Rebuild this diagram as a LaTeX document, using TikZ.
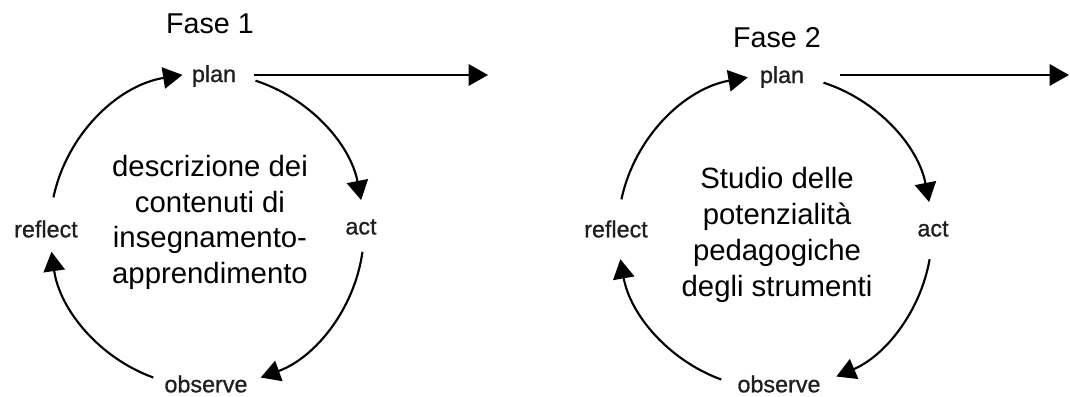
\documentclass[tikz,border=0pt]{standalone}
\usepackage{fontspec}
\setmainfont{Liberation Sans}
\newfontfamily\lblfont{Liberation Sans}[UprightFeatures={FakeBold=0.9}]
\usetikzlibrary{arrows.meta}
\begin{document}
\begin{tikzpicture}[x=0.75pt,y=0.75pt,
  cyc/.style={line width=1.6pt,-{Triangle[length=14.5pt,width=16pt]}},
  lbl/.style={font=\lblfont\fontsize{17.5}{20}\selectfont, text=black!88, inner sep=0pt},
  ttl/.style={font=\fontsize{21.5}{26}\selectfont, inner sep=0pt},
  body/.style={font=\fontsize{22}{26.8}\selectfont, align=center, inner sep=0pt}]
\useasboundingbox (0,0) rectangle (1070,396);

% ---------- Fase 1 ----------
\coordinate (c1) at (207,166);
\node[ttl] (f1) at (210,372) {Fase 1};
\node[lbl] (plan1) at (214,320) {plan};
\node[lbl] (act1) at (361,169) {act};
\node[lbl] (obs1) at (206,12) {observe};
\node[lbl] (ref1) at (46,167) {reflect};
\node[body] (txt1) at (210,173.5) {descrizione dei\\contenuti di\\insegnamento-\\apprendimento};
\coordinate (end1) at (488,321);

\draw[cyc] ([shift={(72:157)}]c1) arc[start angle=72,end angle=11,radius=157];
\draw[cyc] ([shift={(-8:157)}]c1) arc[start angle=-8,end angle=-70,radius=157];
\draw[cyc] ([shift={(-110:157)}]c1) arc[start angle=-110,end angle=-172,radius=157];
\draw[cyc] ([shift={(168:157)}]c1) arc[start angle=168,end angle=99,radius=157];
\draw[cyc] ([xshift=13.5pt,yshift=0.75pt]plan1.east) -- (end1);

% ---------- Fase 2 ----------
\coordinate (c2) at (775,164);
\node[ttl] (f2) at (777,358) {Fase 2};
\node[lbl] (plan2) at (782,319) {plan};
\node[lbl] (act2) at (933,167) {act};
\node[lbl] (obs2) at (779,12) {observe};
\node[lbl] (ref2) at (616,167) {reflect};
\node[body] (txt2) at (777,161) {Studio delle\\potenzialità\\pedagogiche\\degli strumenti};
\coordinate (end2) at (1069,321);

\draw[cyc] ([shift={(72:157)}]c2) arc[start angle=72,end angle=11,radius=157];
\draw[cyc] ([shift={(-10:157)}]c2) arc[start angle=-10,end angle=-67,radius=157];
\draw[cyc] ([shift={(-110:157)}]c2) arc[start angle=-110,end angle=-170,radius=157];
\draw[cyc] ([shift={(168:157)}]c2) arc[start angle=168,end angle=100,radius=157];
\draw[cyc] ([xshift=27pt,yshift=1.5pt]plan2.east) -- (end2);
\end{tikzpicture}
\end{document}
